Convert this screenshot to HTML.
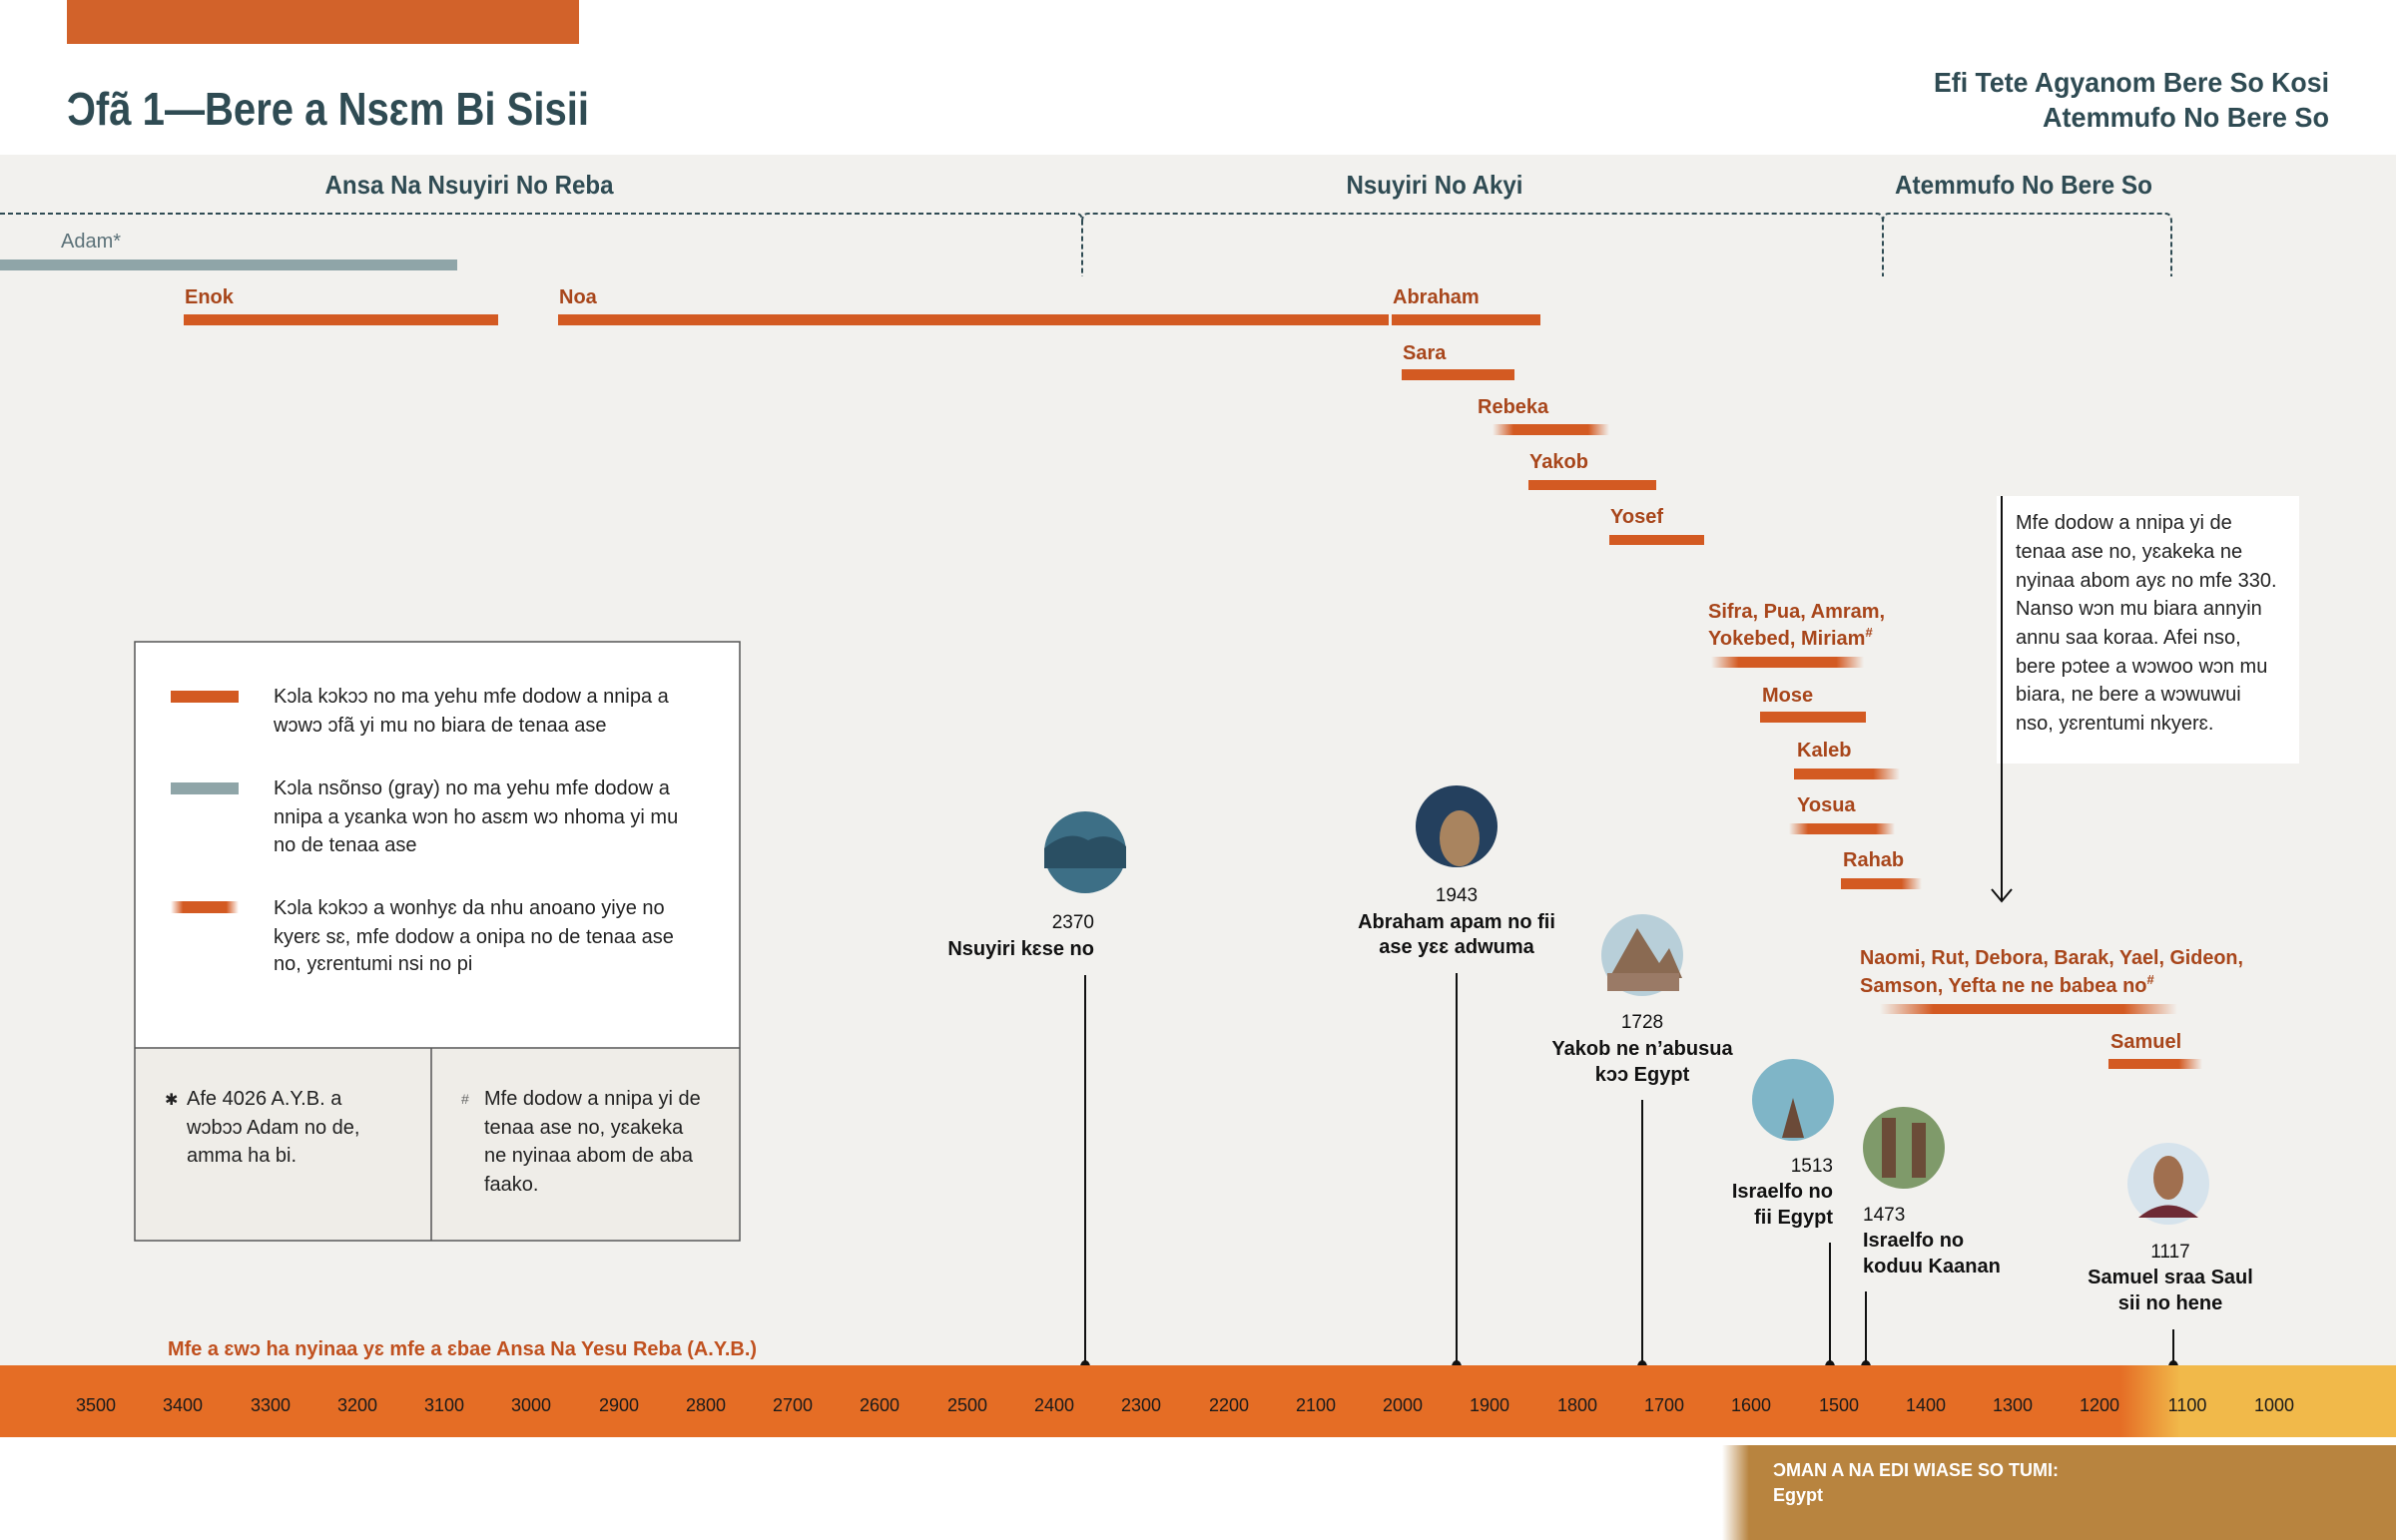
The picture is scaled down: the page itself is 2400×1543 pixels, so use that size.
<!DOCTYPE html>
<html><head><meta charset="utf-8"><style>
html,body{margin:0;padding:0;background:#fff}
svg{display:block}
text{font-family:"Liberation Sans Narrow","Liberation Sans","DejaVu Sans",sans-serif}
.h{fill:#2f4b53;font-weight:bold}
.n{fill:#a8461b;font-weight:bold;font-size:20px}
.lg{fill:#222;font-size:20px;font-family:"Liberation Sans",sans-serif}
.ev{fill:#111;font-weight:bold;font-size:20px}
.yr{fill:#111;font-size:19px}
.tk{fill:#1a1a1a;font-size:18px}
</style></head><body>
<svg width="2400" height="1543" viewBox="0 0 2400 1543" xmlns="http://www.w3.org/2000/svg">
<defs>
<linearGradient id="fb" x1="0" x2="1"><stop offset="0" stop-color="#d35a22" stop-opacity="0"/><stop offset="0.18" stop-color="#d35a22"/><stop offset="0.82" stop-color="#d35a22"/><stop offset="1" stop-color="#d35a22" stop-opacity="0"/></linearGradient>
<linearGradient id="fr" x1="0" x2="1"><stop offset="0" stop-color="#d35a22"/><stop offset="0.75" stop-color="#d35a22"/><stop offset="1" stop-color="#d35a22" stop-opacity="0"/></linearGradient>
<linearGradient id="ax" x1="0" x2="1"><stop offset="0" stop-color="#e56d25"/><stop offset="0.885" stop-color="#e56d25"/><stop offset="0.91" stop-color="#f1b94a"/><stop offset="1" stop-color="#f1b94a"/></linearGradient>
<linearGradient id="br" x1="0" x2="1"><stop offset="0" stop-color="#b8843f" stop-opacity="0"/><stop offset="0.04" stop-color="#b8843f"/><stop offset="1" stop-color="#b8843f"/></linearGradient>
</defs>
<rect width="2400" height="1543" fill="#fff"/>
<rect x="0" y="155" width="2400" height="1213" fill="#f2f1ee"/>
<rect x="67" y="0" width="513" height="44" fill="#d2622a"/>
<text class="h" x="67" y="125" font-size="46" textLength="523" lengthAdjust="spacingAndGlyphs">Ɔfã 1—Bere a Nsɛm Bi Sisii</text>
<text class="h" x="2333" y="92" font-size="28" text-anchor="end" textLength="396" lengthAdjust="spacingAndGlyphs">Efi Tete Agyanom Bere So Kosi</text>
<text class="h" x="2333" y="127" font-size="28" text-anchor="end" textLength="287" lengthAdjust="spacingAndGlyphs">Atemmufo No Bere So</text>
<text class="h" x="470" y="194" font-size="26" text-anchor="middle" textLength="289" lengthAdjust="spacingAndGlyphs">Ansa Na Nsuyiri No Reba</text>
<text class="h" x="1437" y="194" font-size="26" text-anchor="middle" textLength="177" lengthAdjust="spacingAndGlyphs">Nsuyiri No Akyi</text>
<text class="h" x="2027" y="194" font-size="26" text-anchor="middle" textLength="258" lengthAdjust="spacingAndGlyphs">Atemmufo No Bere So</text>
<g stroke="#2f4b53" stroke-width="2" fill="none" stroke-dasharray="5,3">
<path d="M0 214 H1078 Q1084 214 1084 222 V277"/><path d="M1084 222 Q1084 214 1090 214 H1880 Q1886 214 1886 222 V277"/><path d="M1886 222 Q1886 214 1892 214 H2169 Q2175 214 2175 222 V277"/>
</g>
<text x="61" y="248" font-size="20" fill="#5b7178">Adam*</text>
<rect x="0" y="260" width="458" height="11" fill="#8fa5a8"/>
<text class="n" x="185" y="304">Enok</text><rect x="184" y="315" width="315" height="11" fill="#d35a22"/>
<text class="n" x="560" y="304">Noa</text><rect x="559" y="315" width="832" height="11" fill="#d35a22"/>
<text class="n" x="1395" y="304">Abraham</text><rect x="1394" y="315" width="149" height="11" fill="#d35a22"/>
<text class="n" x="1405" y="360">Sara</text><rect x="1404" y="370" width="113" height="11" fill="#d35a22"/>
<text class="n" x="1480" y="414">Rebeka</text><rect x="1495" y="425" width="117" height="11" fill="url(#fb)"/>
<text class="n" x="1532" y="469">Yakob</text><rect x="1531" y="481" width="128" height="10" fill="#d35a22"/>
<text class="n" x="1613" y="524">Yosef</text><rect x="1612" y="536" width="95" height="10" fill="#d35a22"/>
<text class="n" x="1711" y="619">Sifra, Pua, Amram,</text>
<text class="n" x="1711" y="646">Yokebed, Miriam<tspan font-size="13" dy="-8">#</tspan></text>
<rect x="1714" y="658" width="153" height="11" fill="url(#fb)"/>
<text class="n" x="1765" y="703">Mose</text><rect x="1763" y="713" width="106" height="11" fill="#d35a22"/>
<text class="n" x="1800" y="758">Kaleb</text><rect x="1797" y="770" width="106" height="11" fill="url(#fr)"/>
<text class="n" x="1800" y="813">Yosua</text><rect x="1792" y="825" width="106" height="11" fill="url(#fb)"/>
<text class="n" x="1846" y="868">Rahab</text><rect x="1844" y="880" width="81" height="11" fill="url(#fr)"/>
<text class="n" x="1863" y="966" textLength="384" lengthAdjust="spacingAndGlyphs">Naomi, Rut, Debora, Barak, Yael, Gideon,</text>
<text class="n" x="1863" y="994">Samson, Yefta ne ne babea no<tspan font-size="13" dy="-8">#</tspan></text>
<rect x="1883" y="1006" width="298" height="10" fill="url(#fb)"/>
<text class="n" x="2114" y="1050">Samuel</text><rect x="2112" y="1061" width="94" height="10" fill="url(#fr)"/>
<!-- note -->
<rect x="2000" y="497" width="303" height="268" fill="#fff"/>
<g class="lg" font-size="20"><text x="2019" y="530">Mfe dodow a nnipa yi de</text><text x="2019" y="559">tenaa ase no, yɛakeka ne</text><text x="2019" y="588">nyinaa abom ayɛ no mfe 330.</text><text x="2019" y="616">Nanso wɔn mu biara annyin</text><text x="2019" y="645">annu saa koraa. Afei nso,</text><text x="2019" y="674">bere pɔtee a wɔwoo wɔn mu</text><text x="2019" y="702">biara, ne bere a wɔwuwui</text><text x="2019" y="731">nso, yɛrentumi nkyerɛ.</text></g>
<path d="M2005 497 V903 M1995 891 L2005 903 L2015 891" stroke="#111" stroke-width="2" fill="none"/>
<!-- legend -->
<rect x="135" y="643" width="606" height="600" fill="#fff" stroke="#555" stroke-width="1.5"/>
<rect x="136" y="1051" width="604" height="191" fill="#efede8"/>
<line x1="135" y1="1050" x2="741" y2="1050" stroke="#555" stroke-width="1.5"/>
<line x1="432" y1="1050" x2="432" y2="1243" stroke="#555" stroke-width="1.5"/>
<rect x="171" y="692" width="68" height="12" fill="#d35a22"/>
<rect x="171" y="784" width="68" height="12" fill="#8fa5a8"/>
<rect x="171" y="903" width="68" height="12" fill="url(#fb)"/>
<g class="lg"><text x="274" y="704">Kɔla kɔkɔɔ no ma yehu mfe dodow a nnipa a</text><text x="274" y="733">wɔwɔ ɔfã yi mu no biara de tenaa ase</text>
<text x="274" y="796">Kɔla nsõnso (gray) no ma yehu mfe dodow a</text><text x="274" y="825">nnipa a yɛanka wɔn ho asɛm wɔ nhoma yi mu</text><text x="274" y="853">no de tenaa ase</text>
<text x="274" y="916">Kɔla kɔkɔɔ a wonhyɛ da nhu anoano yiye no</text><text x="274" y="945">kyerɛ sɛ, mfe dodow a onipa no de tenaa ase</text><text x="274" y="972">no, yɛrentumi nsi no pi</text>
<text x="165" y="1107" font-size="16">✱</text><text x="187" y="1107">Afe 4026 A.Y.B. a</text><text x="187" y="1136">wɔbɔɔ Adam no de,</text><text x="187" y="1164">amma ha bi.</text>
<text x="462" y="1106" font-size="14" fill="#666">#</text><text x="485" y="1107">Mfe dodow a nnipa yi de</text><text x="485" y="1136">tenaa ase no, yɛakeka</text><text x="485" y="1164">ne nyinaa abom de aba</text><text x="485" y="1193">faako.</text></g>
<!-- events -->
<g stroke="#111" stroke-width="2"><line x1="1087" y1="977" x2="1087" y2="1370"/><line x1="1459" y1="975" x2="1459" y2="1370"/><line x1="1645" y1="1102" x2="1645" y2="1370"/><line x1="1833" y1="1245" x2="1833" y2="1370"/><line x1="1869" y1="1294" x2="1869" y2="1370"/><line x1="2177" y1="1332" x2="2177" y2="1370"/></g>
<g fill="#111"><ellipse cx="1087" cy="1370" rx="5" ry="7"/><ellipse cx="1459" cy="1370" rx="5" ry="7"/><ellipse cx="1645" cy="1370" rx="5" ry="7"/><ellipse cx="1833" cy="1370" rx="5" ry="7"/><ellipse cx="1869" cy="1370" rx="5" ry="7"/><ellipse cx="2177" cy="1370" rx="5" ry="7"/></g>
<circle cx="1087" cy="854" r="41" fill="#3d6f86"/><path d="M1046 850 Q1070 830 1090 842 Q1110 832 1128 848 L1128 870 L1046 870Z" fill="#2a4f63"/>
<circle cx="1459" cy="828" r="41" fill="#24405e"/><ellipse cx="1462" cy="840" rx="20" ry="28" fill="#a9845f"/>
<circle cx="1645" cy="957" r="41" fill="#b8cfd9"/><path d="M1612 980 L1640 930 L1662 965 L1672 950 L1685 980Z" fill="#8a6a52"/><rect x="1610" y="975" width="72" height="18" fill="#9a7a66"/>
<circle cx="1796" cy="1102" r="41" fill="#7fb5c7"/><path d="M1785 1140 L1796 1100 L1807 1140Z" fill="#6b4a38"/>
<circle cx="1907" cy="1150" r="41" fill="#7f9a6a"/><rect x="1885" y="1120" width="14" height="60" fill="#6b4c38"/><rect x="1915" y="1125" width="14" height="55" fill="#6b4c38"/>
<circle cx="2172" cy="1186" r="41" fill="#d6e3ec"/><ellipse cx="2172" cy="1180" rx="15" ry="22" fill="#a06f4f"/><path d="M2142 1220 Q2172 1195 2202 1220Z" fill="#6d2a35"/>
<text class="yr" x="1096" y="930" text-anchor="end">2370</text><text class="ev" x="1096" y="957" text-anchor="end">Nsuyiri kɛse no</text>
<text class="yr" x="1459" y="903" text-anchor="middle">1943</text><text class="ev" x="1459" y="930" text-anchor="middle">Abraham apam no fii</text><text class="ev" x="1459" y="955" text-anchor="middle">ase yɛɛ adwuma</text>
<text class="yr" x="1645" y="1030" text-anchor="middle">1728</text><text class="ev" x="1645" y="1057" text-anchor="middle">Yakob ne n’abusua</text><text class="ev" x="1645" y="1083" text-anchor="middle">kɔɔ Egypt</text>
<text class="yr" x="1836" y="1174" text-anchor="end">1513</text><text class="ev" x="1836" y="1200" text-anchor="end">Israelfo no</text><text class="ev" x="1836" y="1226" text-anchor="end">fii Egypt</text>
<text class="yr" x="1866" y="1223">1473</text><text class="ev" x="1866" y="1249">Israelfo no</text><text class="ev" x="1866" y="1275">koduu Kaanan</text>
<text class="yr" x="2174" y="1260" text-anchor="middle">1117</text><text class="ev" x="2174" y="1286" text-anchor="middle">Samuel sraa Saul</text><text class="ev" x="2174" y="1312" text-anchor="middle">sii no hene</text>
<text x="168" y="1358" font-size="20" font-weight="bold" fill="#c0501e" textLength="590" lengthAdjust="spacingAndGlyphs">Mfe a ɛwɔ ha nyinaa yɛ mfe a ɛbae Ansa Na Yesu Reba (A.Y.B.)</text>
<!-- axis -->
<rect x="0" y="1368" width="2400" height="72" fill="url(#ax)"/>
<g class="tk" text-anchor="middle">
<text x="96" y="1414">3500</text><text x="183" y="1414">3400</text><text x="271" y="1414">3300</text><text x="358" y="1414">3200</text><text x="445" y="1414">3100</text><text x="532" y="1414">3000</text><text x="620" y="1414">2900</text><text x="707" y="1414">2800</text><text x="794" y="1414">2700</text><text x="881" y="1414">2600</text><text x="969" y="1414">2500</text><text x="1056" y="1414">2400</text><text x="1143" y="1414">2300</text><text x="1231" y="1414">2200</text><text x="1318" y="1414">2100</text><text x="1405" y="1414">2000</text><text x="1492" y="1414">1900</text><text x="1580" y="1414">1800</text><text x="1667" y="1414">1700</text><text x="1754" y="1414">1600</text><text x="1842" y="1414">1500</text><text x="1929" y="1414">1400</text><text x="2016" y="1414">1300</text><text x="2103" y="1414">1200</text><text x="2191" y="1414">1100</text><text x="2278" y="1414">1000</text>
</g>
<rect x="1725" y="1448" width="675" height="95" fill="url(#br)"/>
<text x="1776" y="1479" font-size="18" font-weight="bold" fill="#fff">ƆMAN A NA EDI WIASE SO TUMI:</text>
<text x="1776" y="1504" font-size="18" font-weight="bold" fill="#fff">Egypt</text>
</svg>
</body></html>
